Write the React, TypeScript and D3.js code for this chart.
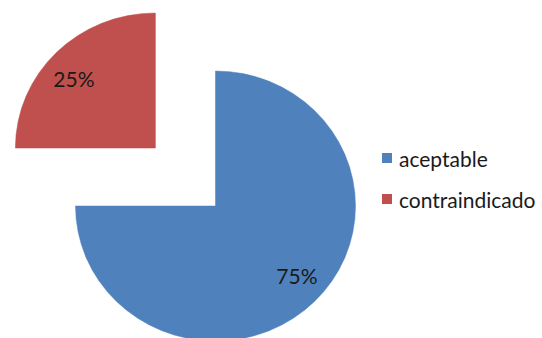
import React from "react";
import * as d3 from "d3";

const categories = ["aceptable", "contraindicado"];
const values = [75, 25];
const labels = ["75%", "25%"];
const colors = ["#4F81BD", "#C0504D"];
const explode = [0, 82];

export default function App() {
  const W = 542, H = 338;
  const cx = 215.5, cy = 206, r = 135, sx = 1.037;
  const pie = d3.pie<number>().sort(null).value((d) => d).startAngle(0).endAngle(2 * Math.PI);
  const arcs = pie(values);
  const arcGen = d3.arc<d3.PieArcDatum<number>>().innerRadius(0).outerRadius(r);
  const labelR = 105;
  const labelSkew = 0.06;
  return (
    <svg width={W} height={H} style={{ position: "absolute", left: 0, top: 0, fontFamily: "Lato, 'Open Sans', sans-serif" }}>
      <rect width={W} height={H} fill="#fff" />
      {arcs.map((a, i) => {
        const mid = (a.startAngle + a.endAngle) / 2;
        const dx = Math.sin(mid) * explode[i] * sx;
        const dy = -Math.cos(mid) * explode[i];
        const la = mid - labelSkew;
        const lx = Math.sin(la) * labelR * sx;
        const ly = -Math.cos(la) * labelR;
        return (
          <g key={i}>
            <g transform={`translate(${cx + dx},${cy + dy}) scale(${sx},1)`}>
              <path d={arcGen(a) || ""} fill={colors[i]} stroke={colors[i]} strokeWidth={0.5} />
            </g>
            <text x={cx + dx + lx} y={cy + dy + ly} textAnchor="middle" dominantBaseline="central" fontSize={21} fill="#1a1a1a">
              {labels[i]}
            </text>
          </g>
        );
      })}
      {categories.map((c, i) => (
        <g key={c} transform={`translate(382,${158 + i * 41})`}>
          <rect x={0} y={-5} width={10} height={10} fill={colors[i]} />
          <text x={17} y={0} dominantBaseline="central" fontSize={21} fill="#1a1a1a">{c}</text>
        </g>
      ))}
    </svg>
  );
}
